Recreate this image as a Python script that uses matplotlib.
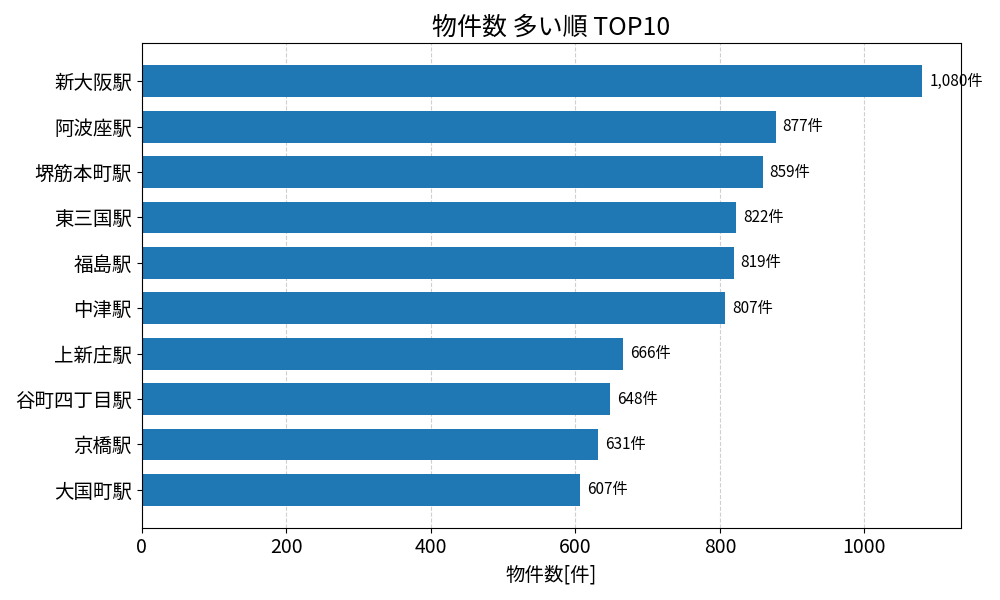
import matplotlib
matplotlib.use("Agg")
import matplotlib.pyplot as plt

plt.rcParams['font.family'] = ['Noto Sans CJK JP', 'DejaVu Sans']

stations = ["新大阪駅", "阿波座駅", "堺筋本町駅", "東三国駅", "福島駅",
            "中津駅", "上新庄駅", "谷町四丁目駅", "京橋駅", "大国町駅"]
counts = [1080, 877, 859, 822, 819, 807, 666, 648, 631, 607]

fig, ax = plt.subplots(figsize=(10, 6), dpi=100)

# reverse so the biggest is on top
bars = ax.barh(stations[::-1], counts[::-1], height=0.7, color="#1f77b4")

for rect, v in zip(bars, counts[::-1]):
    ax.annotate('{:,}件'.format(v),
                xy=(rect.get_width(), rect.get_y() + rect.get_height() / 2),
                xytext=(5, 0), textcoords="offset points",
                ha='left', va='center', fontsize=11)

ax.set_xlim(0, max(counts) * 1.05)
ax.set_title("物件数 多い順 TOP10", fontsize=18)
ax.set_xlabel("物件数[件]", fontsize=14)
ax.tick_params(axis='both', labelsize=14)
ax.grid(axis='x', linestyle='--', alpha=0.6)
ax.set_axisbelow(True)

plt.tight_layout()
plt.savefig("out.png", dpi=100)
